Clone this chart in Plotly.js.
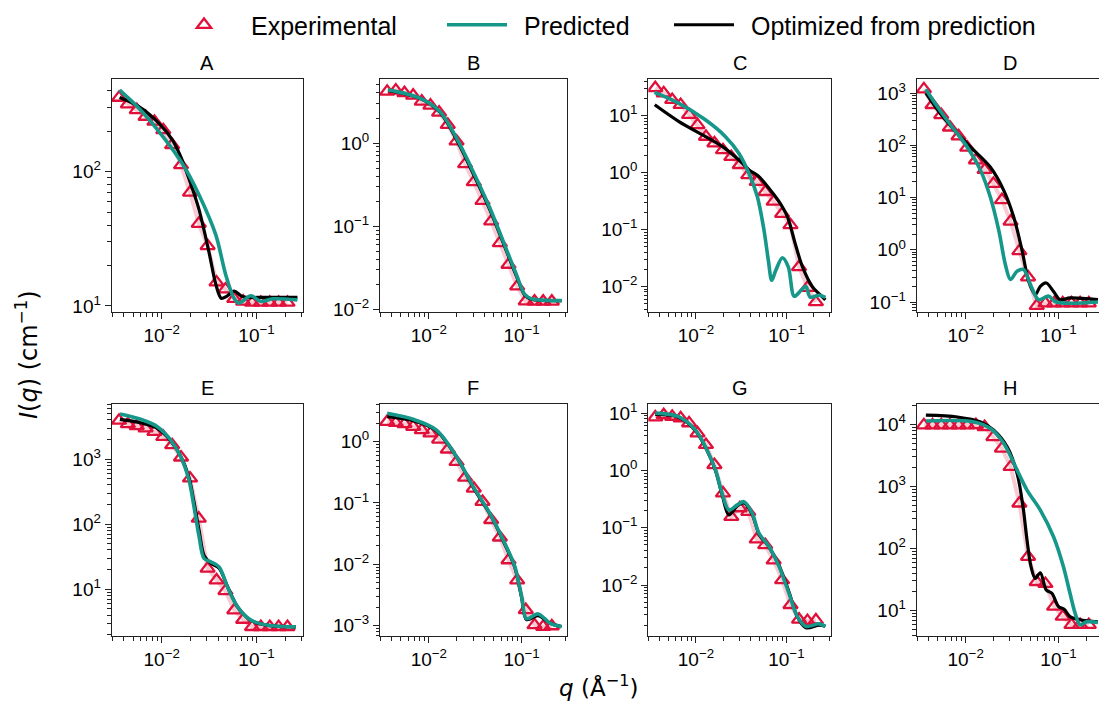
<!DOCTYPE html>
<html><head><meta charset="utf-8">
<script src="https://cdn.plot.ly/plotly-3.0.1.min.js"></script>
<style>html,body{margin:0;padding:0;overflow:hidden;background:#fff;width:1099px;height:702px}</style>
</head><body><div id="chart" style="width:1110px;height:702px"></div>
<script>
// ---------------- data ----------------
const panelNames = ['A','B','C','D','E','F','G','H'];
const qExp = [0.00355, 0.0044, 0.00546, 0.00677, 0.00839, 0.0104, 0.0129, 0.016, 0.0199, 0.0246, 0.0305, 0.0379, 0.047, 0.0583, 0.0723, 0.0897, 0.111, 0.138, 0.171, 0.212];

const expA = [356, 318, 288, 257, 236, 204, 158, 112, 70, 41, 28, 15, 13.3, 11.3, 10.8, 10.6, 10.6, 10.6, 10.6, 10.6];
const expB = [4.16, 4.3, 4.0, 3.73, 3.16, 2.83, 2.33, 1.66, 1.05, 0.56, 0.34, 0.203, 0.115, 0.063, 0.0346, 0.019, 0.0126, 0.0125, 0.0125, 0.0125];
const expC = [30.8, 25, 19.1, 15.6, 10.4, 6.9, 4.3, 3.3, 2.5, 1.9, 1.37, 0.91, 0.69, 0.46, 0.31, 0.19, 0.12, 0.022, 0.0095, 0.0053];
const expD = [1190, 595, 382, 221, 150, 91, 52, 34, 18.4, 9.0, 3.5, 0.95, 0.3, 0.085, 0.095, 0.095, 0.095, 0.095, 0.095, 0.095];
const expE = [3900, 3450, 3220, 2970, 2630, 2200, 1640, 1060, 505, 122, 20.8, 13.7, 9.4, 4.75, 3.4, 2.63, 2.63, 2.63, 2.63, 2.63];
const expF = [2.12, 2.04, 1.95, 1.76, 1.55, 1.37, 1.09, 0.75, 0.47, 0.26, 0.173, 0.105, 0.053, 0.0275, 0.0117, 0.0055, 0.0018, 0.00102, 0.00096, 0.00098];
const expG = [8.5, 9.3, 8.7, 8.2, 6.7, 4.47, 2.8, 1.25, 0.40, 0.155, 0.22, 0.19, 0.063, 0.05, 0.027, 0.0122, 0.0045, 0.0025, 0.00237, 0.00243];
const expH = [9750, 9750, 9750, 9750, 9750, 9750, 9800, 9130, 6300, 4110, 2080, 535, 74, 29, 27, 11.6, 8.0, 5.9, 5.9, 5.9];

const qPredA = [0.0036, 0.00575, 0.00937, 0.0165, 0.0248, 0.0372, 0.0474, 0.058, 0.0655, 0.0871, 0.111, 0.148, 0.27];
const predA  = [405, 297, 199, 115, 67, 33.8, 17, 11.4, 10.5, 11.9, 10.8, 11.3, 11.1];
const qOptA  = [0.0036, 0.00575, 0.00937, 0.013, 0.016, 0.0199, 0.0246, 0.0316, 0.0372, 0.0425, 0.0485, 0.058, 0.072, 0.12, 0.27];
const optA   = [356, 305, 229, 172, 128, 84, 53, 25, 14.5, 11.4, 11.8, 12.9, 11.7, 11.6, 11.6];

const qPredB = [0.00364, 0.008, 0.01315, 0.0199, 0.0277, 0.0455, 0.0634, 0.0883, 0.1086, 0.128, 0.27];
const predB  = [4.36, 3.47, 2.4, 1.15, 0.55, 0.166, 0.066, 0.026, 0.0151, 0.0135, 0.0128];
const qOptB  = [0.00364, 0.008, 0.01315, 0.0199, 0.0277, 0.0455, 0.0634, 0.0883, 0.1086, 0.128, 0.27];
const optB   = [4.3, 3.45, 2.35, 1.1, 0.52, 0.158, 0.063, 0.025, 0.0148, 0.0133, 0.0128];

const qPredC = [0.00348, 0.00642, 0.0127, 0.0212, 0.0298, 0.0386, 0.0477, 0.0565, 0.0631, 0.0689, 0.0762, 0.0903, 0.105, 0.122, 0.145, 0.1644, 0.183, 0.231, 0.27];
const predC  = [25.8, 16.7, 8.5, 4.3, 2.2, 0.97, 0.38, 0.098, 0.029, 0.0128, 0.019, 0.032, 0.022, 0.0067, 0.0085, 0.01, 0.0065, 0.007, 0.0064];
const qOptC  = [0.0035, 0.00642, 0.0195, 0.0298, 0.0386, 0.0498, 0.0643, 0.083, 0.1026, 0.125, 0.1507, 0.1945, 0.251, 0.27];
const optC   = [15.6, 8.0, 2.9, 1.67, 1.12, 0.85, 0.53, 0.31, 0.168, 0.057, 0.022, 0.0098, 0.0065, 0.0058];

const qPredD = [0.00373, 0.0048, 0.0069, 0.0104, 0.0145, 0.0185, 0.0228, 0.0268, 0.0304, 0.0358, 0.0422, 0.0497, 0.061, 0.078, 0.0945, 0.266];
const predD  = [1190, 600, 245, 93, 33, 10, 2.3, 0.52, 0.27, 0.39, 0.42, 0.22, 0.111, 0.13, 0.1, 0.1];
const qOptD  = [0.00373, 0.00546, 0.0084, 0.0123, 0.0185, 0.0258, 0.033, 0.0406, 0.0477, 0.0562, 0.0637, 0.0738, 0.0884, 0.104, 0.133, 0.266];
const optD   = [1000, 385, 160, 80, 38, 13.6, 4.2, 0.95, 0.25, 0.139, 0.2, 0.232, 0.16, 0.111, 0.12, 0.111];

const qPredE = [0.00363, 0.006, 0.009, 0.01245, 0.0159, 0.0194, 0.0219, 0.0248, 0.028, 0.0329, 0.0403, 0.0494, 0.063, 0.0871, 0.1306, 0.26];
const predE  = [4920, 4080, 3140, 1960, 1085, 475, 185, 64, 29.6, 26.3, 22, 10.8, 5.35, 3.34, 2.79, 2.63];
const qOptE  = [0.00363, 0.006, 0.009, 0.01245, 0.0159, 0.0194, 0.0219, 0.0248, 0.028, 0.0329, 0.0403, 0.0494, 0.063, 0.0871, 0.1306, 0.26];
const optE   = [4080, 3610, 2950, 1900, 1100, 520, 220, 80, 33, 25, 21, 11, 5.4, 3.3, 2.78, 2.63];

const qPredF = [0.00355, 0.00678, 0.0121, 0.0199, 0.0301, 0.0455, 0.0634, 0.0847, 0.1, 0.1132, 0.151, 0.2018, 0.27];
const predF  = [2.9, 2.32, 1.55, 0.57, 0.185, 0.068, 0.025, 0.0091, 0.003, 0.0013, 0.00155, 0.0011, 0.00096];
const qOptF  = [0.00355, 0.00678, 0.0121, 0.0199, 0.0301, 0.0455, 0.0634, 0.0847, 0.1, 0.1132, 0.151, 0.2018, 0.27];
const optF   = [2.56, 2.2, 1.5, 0.56, 0.18, 0.066, 0.024, 0.0088, 0.0029, 0.00125, 0.00145, 0.0011, 0.00096];

const qPredG = [0.00354, 0.00642, 0.00985, 0.01324, 0.01643, 0.01946, 0.0231, 0.0286, 0.0339, 0.0419, 0.0498, 0.0643, 0.083, 0.107, 0.1324, 0.1643, 0.2307, 0.27];
const predG  = [10, 8.7, 5.1, 2.28, 1.02, 0.4, 0.204, 0.25, 0.285, 0.179, 0.08, 0.047, 0.021, 0.0071, 0.0028, 0.0019, 0.0021, 0.0019];
const qOptG  = [0.00354, 0.00642, 0.00985, 0.01324, 0.01643, 0.01946, 0.0231, 0.0286, 0.0339, 0.0419, 0.0498, 0.0643, 0.083, 0.107, 0.1324, 0.1643, 0.2307, 0.27];
const optG   = [9.5, 8.5, 5.0, 2.25, 1.0, 0.38, 0.167, 0.24, 0.27, 0.17, 0.078, 0.046, 0.022, 0.0075, 0.0028, 0.0018, 0.002, 0.0019];

const qPredH = [0.00373, 0.0123, 0.0185, 0.0258, 0.0358, 0.0458, 0.0637, 0.0884, 0.113, 0.133, 0.151, 0.171, 0.201, 0.266];
const predH  = [11400, 11000, 8600, 4950, 1840, 875, 417, 155, 51, 19, 9.1, 5.9, 6.6, 6.4];
const qOptH  = [0.00373, 0.00815, 0.0145, 0.0201, 0.028, 0.0358, 0.0415, 0.0458, 0.0506, 0.0562, 0.0637, 0.0738, 0.0849, 0.1, 0.115, 0.133, 0.171, 0.266];
const optH   = [14100, 13200, 11000, 8100, 4370, 1630, 471, 137, 51, 33, 40.7, 21.5, 19, 11.6, 10.5, 8, 7.1, 6.6];

// tick decades
const xDecades = [-2, -1];
const yDecadesA = [1, 2];
const yDecadesB = [-2, -1, 0];
const yDecadesC = [-2, -1, 0, 1];
const yDecadesD = [-1, 0, 1, 2, 3];
const yDecadesE = [1, 2, 3];
const yDecadesF = [-3, -2, -1, 0];
const yDecadesG = [-2, -1, 0, 1];
const yDecadesH = [1, 2, 3, 4];

const legendNames = ['Experimental', 'Predicted', 'Optimized from prediction'];

// ---------------- layout / style ----------------
const W = 1110, H = 702;
const expData = [expA, expB, expC, expD, expE, expF, expG, expH];
const predQ = [qPredA, qPredB, qPredC, qPredD, qPredE, qPredF, qPredG, qPredH];
const predV = [predA, predB, predC, predD, predE, predF, predG, predH];
const optQ = [qOptA, qOptB, qOptC, qOptD, qOptE, qOptF, qOptG, qOptH];
const optV = [optA, optB, optC, optD, optE, optF, optG, optH];
const yDec = [yDecadesA, yDecadesB, yDecadesC, yDecadesD, yDecadesE, yDecadesF, yDecadesG, yDecadesH];

const colPx = [[111.7, 303], [380, 567], [648.3, 830.7], [916.7, 1104]];
const rowPx = [[79, 312], [404, 636]];
const yRanges = [[0.955, 2.69], [-2.03, 0.77], [-2.45, 1.647], [-1.19, 3.27],
                 [0.28, 3.846], [-3.17, 0.615], [-2.89, 1.16], [0.59, 4.33]];
const xRange = [-2.527, -0.51];

const RED = '#e0103a', TEAL = '#15978a', BLACK = '#000000';
const FONT = 'Liberation Sans, Arial, sans-serif';
const PAD = '\u00a0\u2009';

function supText(d) { return '10<sup>' + (d < 0 ? '\u2212' + (-d) : d) + '</sup>'; }
function minorVals(r) {
  const out = [];
  for (let d = Math.floor(r[0]) - 1; d <= Math.ceil(r[1]); d++) {
    for (let m = 2; m <= 9; m++) {
      const v = m * Math.pow(10, d);
      const lv = Math.log10(v);
      if (lv >= r[0] && lv <= r[1]) out.push(v);
    }
  }
  return out;
}

const traces = [];
const layout = {
  width: W, height: H,
  margin: {l: 0, r: 0, t: 0, b: 0},
  paper_bgcolor: '#fff', plot_bgcolor: '#fff',
  showlegend: true,
  hovermode: false,
  font: {family: FONT, color: '#000'},
  legend: {
    orientation: 'h', x: 169 / W, xanchor: 'left', y: 1 - 25 / H, yanchor: 'middle',
    font: {family: FONT, size: 25, color: '#000'},
    itemwidth: 60,
    bgcolor: 'rgba(0,0,0,0)', borderwidth: 0, traceorder: 'normal'
  },
  annotations: [],
};
const legendWidths = [198, 152, 310];

for (let i = 0; i < 8; i++) {
  const row = Math.floor(i / 4), col = i % 4;
  const sfx = i === 0 ? '' : String(i + 1);
  const xa = 'x' + sfx, ya = 'y' + sfx;
  const show = i === 0;

  traces.push({x: qExp, y: expData[i], xaxis: xa, yaxis: ya, mode: 'lines', type: 'scatter',
    line: {color: 'rgba(224,16,58,0.22)', width: 4}, showlegend: false});
  traces.push({x: qExp, y: expData[i], xaxis: xa, yaxis: ya, mode: 'markers', type: 'scatter',
    name: PAD + legendNames[0], legendrank: 1, showlegend: show, legendwidth: legendWidths[0],
    marker: {symbol: 'triangle-up-open', size: 12.5, color: RED, line: {color: RED, width: 2.3}}});
  traces.push({x: optQ[i], y: optV[i], xaxis: xa, yaxis: ya, mode: 'lines', type: 'scatter',
    name: PAD + legendNames[2], legendrank: 3, showlegend: show, legendwidth: legendWidths[2],
    line: {color: BLACK, width: 3.2, shape: 'spline', smoothing: 0.9}});
  traces.push({x: predQ[i], y: predV[i], xaxis: xa, yaxis: ya, mode: 'lines', type: 'scatter',
    name: PAD + legendNames[1], legendrank: 2, showlegend: show, legendwidth: legendWidths[1],
    line: {color: TEAL, width: 3.6, shape: 'spline', smoothing: 0.9}});

  const xd = [colPx[col][0] / W, colPx[col][1] / W];
  const yd = [1 - rowPx[row][1] / H, 1 - rowPx[row][0] / H];
  const common = {
    type: 'log', showline: true, linecolor: '#222', linewidth: 1, mirror: true,
    ticks: 'outside', ticklen: 6, tickwidth: 1, tickcolor: '#222',
    showgrid: false, zeroline: false, fixedrange: true,
    tickfont: {family: FONT, size: 19, color: '#000'},
    tickmode: 'array',
  };
  layout['xaxis' + sfx] = Object.assign({}, common, {
    domain: xd, anchor: ya, range: xRange,
    tickvals: xDecades.map(d => Math.pow(10, d)), ticktext: xDecades.map(supText),
    minor: {tickmode: 'array', tickvals: minorVals(xRange), ticks: 'outside', ticklen: 3.5, tickwidth: 1, tickcolor: '#222', showgrid: false},
  });
  layout['yaxis' + sfx] = Object.assign({}, common, {
    domain: yd, anchor: xa, range: yRanges[i],
    tickvals: yDec[i].map(d => Math.pow(10, d)), ticktext: yDec[i].map(supText),
    minor: {tickmode: 'array', tickvals: minorVals(yRanges[i]), ticks: 'outside', ticklen: 3.5, tickwidth: 1, tickcolor: '#222', showgrid: false},
  });
  layout.annotations.push({
    text: panelNames[i], xref: 'paper', yref: 'paper',
    x: (colPx[col][0] + colPx[col][1]) / 2 / W, y: 1 - (rowPx[row][0] - 16) / H,
    xanchor: 'center', yanchor: 'middle', showarrow: false,
    font: {family: FONT, size: 20, color: '#000'}
  });
}

layout.annotations.push({
  text: '<i>I</i>(<i>q</i>) (cm<sup>\u22121</sup>)', xref: 'paper', yref: 'paper',
  x: 27 / W, y: 1 - 355 / H, textangle: -90, showarrow: false,
  xanchor: 'center', yanchor: 'middle',
  font: {family: 'DejaVu Sans, sans-serif', size: 24, color: '#000'}
});
layout.annotations.push({
  text: '<i>q</i> (\u00c5<sup>\u22121</sup>)', xref: 'paper', yref: 'paper',
  x: 598 / W, y: 1 - 686 / H, showarrow: false,
  xanchor: 'center', yanchor: 'middle',
  font: {family: 'DejaVu Sans, sans-serif', size: 23, color: '#000'}
});

Plotly.newPlot('chart', traces, layout, {staticPlot: true, displayModeBar: false});
</script></body></html>
